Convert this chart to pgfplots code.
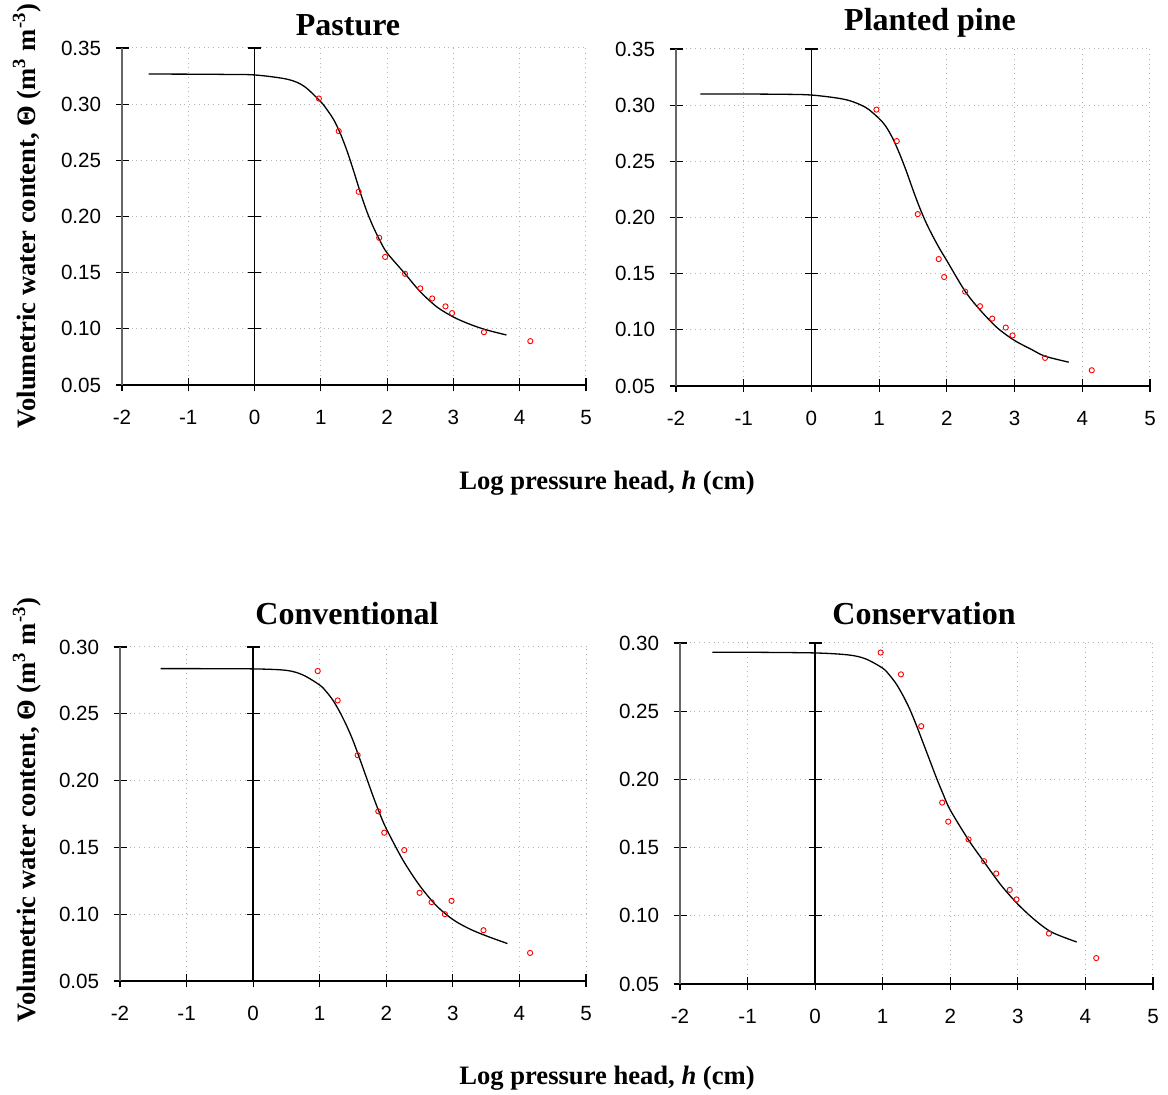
\documentclass[border=0pt]{standalone}
\usepackage{fontspec}
\setmainfont{Liberation Serif}
\newfontfamily\arial{Liberation Sans}
\usepackage{pgfplots}
\pgfplotsset{compat=1.18}

\pgfplotsset{
  swrc/.style={
    scale only axis,
    xmin=-2, xmax=5, ymin=0.05,
    xtick={-2,-1,0,1,2,3,4,5},
    axis lines=left,
    axis line style={-},
    x axis line style={black, line width=1pt},
    y axis line style={black!60, line width=1pt},
    tick align=center,
    major tick length=6.5pt,
    tick style={black, line width=0.6pt},
    grid=major,
    grid style={dotted, black!30, line width=0.5pt},
    ticklabel style={font=\arial\fontsize{10.3}{12}\selectfont, inner sep=0pt},
    xticklabel style={anchor=north, yshift=-9pt},
    yticklabel style={anchor=east, xshift=-7pt},
    /pgf/number format/assume math mode=true,
    yticklabel={\pgfmathprintnumber[fixed, fixed zerofill, precision=2]{\tick}},
  },
  fit/.style={black, line width=0.65pt, smooth, no markers},
  obs/.style={only marks, mark=o, red, mark size=1.3pt, mark options={line width=0.45pt, fill=white}},
}

\newcommand{\zeroline}[1]{%
  \draw[black, line width=0.7pt] (axis cs:0,0.05) -- (axis cs:0,#1);
  \pgfplotsinvokeforeach{0.10,0.15,0.20,0.25,0.30,0.35}{%
    \pgfmathparse{##1<=#1+0.001 ? 1 : 0}%
    \ifnum\pgfmathresult=1
      \draw[black, line width=0.6pt] ([xshift=-3.25pt]axis cs:0,##1) -- ([xshift=3.25pt]axis cs:0,##1);
    \fi}%
}

\begin{document}
\begin{tikzpicture}
\useasboundingbox (0pt,0pt) rectangle (584pt,547.5pt);

% Pasture
\begin{axis}[swrc, at={(61pt,355pt)}, anchor=south west, width=232pt, height=168.5pt,
  ymax=0.35, ytick={0.05,0.10,0.15,0.20,0.25,0.30,0.35}]
\zeroline{0.35}
\addplot[fit] table {
-1.60 0.3268
-1.00 0.3267
-0.50 0.3265
0.00 0.3260
0.50 0.3221
0.75 0.3158
1.00 0.3020
1.10 0.2945
1.20 0.2855
1.30 0.2730
1.40 0.2575
1.50 0.2395
1.60 0.2205
1.70 0.2035
1.80 0.1895
1.90 0.1775
2.00 0.1675
2.27 0.1490
2.50 0.1330
2.75 0.1195
3.00 0.1105
3.25 0.1040
3.50 0.0990
3.80 0.0945
};
\addplot[obs] table {
0.97 0.305
1.27 0.276
1.57 0.222
1.88 0.181
1.97 0.164
2.27 0.149
2.50 0.136
2.68 0.127
2.88 0.120
2.98 0.114
3.46 0.097
4.16 0.089
};
\end{axis}

% Planted pine
\begin{axis}[swrc, at={(338pt,354.5pt)}, anchor=south west, width=237pt, height=168.5pt,
  ymax=0.35, ytick={0.05,0.10,0.15,0.20,0.25,0.30,0.35}]
\zeroline{0.35}
\addplot[fit] table {
-1.64 0.3100
-1.00 0.3099
-0.50 0.3097
0.00 0.3090
0.50 0.3050
0.80 0.2980
1.00 0.2880
1.10 0.2810
1.20 0.2705
1.30 0.2570
1.40 0.2415
1.50 0.2245
1.60 0.2085
1.70 0.1945
1.80 0.1825
1.90 0.1715
2.00 0.1615
2.27 0.1343
2.50 0.1170
2.75 0.1015
3.00 0.0905
3.25 0.0825
3.45 0.0765
3.80 0.0712
};
\addplot[obs] table {
0.96 0.296
1.26 0.268
1.57 0.203
1.88 0.163
1.96 0.147
2.27 0.134
2.49 0.121
2.67 0.110
2.87 0.102
2.97 0.095
3.45 0.075
4.14 0.064
};
\end{axis}

% Conventional
\begin{axis}[swrc, at={(60pt,57pt)}, anchor=south west, width=233pt, height=167pt,
  ymax=0.30, ytick={0.05,0.10,0.15,0.20,0.25,0.30}]
\zeroline{0.30}
\addplot[fit] table {
-1.39 0.2838
-1.00 0.2838
0.00 0.2836
0.50 0.2825
0.75 0.2790
1.00 0.2715
1.10 0.2665
1.20 0.2600
1.30 0.2515
1.40 0.2415
1.50 0.2300
1.60 0.2165
1.70 0.2025
1.80 0.1885
1.90 0.1755
2.00 0.1640
2.25 0.1405
2.50 0.1215
2.75 0.1065
3.00 0.0960
3.25 0.0890
3.50 0.0838
3.82 0.0780
};
\addplot[obs] table {
0.97 0.282
1.27 0.260
1.57 0.219
1.88 0.177
1.97 0.161
2.27 0.148
2.50 0.116
2.68 0.109
2.88 0.100
2.98 0.110
3.46 0.088
4.16 0.071
};
\end{axis}

% Conservation
\begin{axis}[swrc, at={(340pt,55.5pt)}, anchor=south west, width=236.5pt, height=170.5pt,
  ymax=0.30, ytick={0.05,0.10,0.15,0.20,0.25,0.30}]
\zeroline{0.30}
\addplot[fit] table {
-1.52 0.2932
-1.00 0.2932
0.00 0.2927
0.50 0.2912
0.75 0.2883
1.00 0.2815
1.10 0.2765
1.20 0.2700
1.30 0.2615
1.40 0.2515
1.50 0.2395
1.60 0.2265
1.70 0.2135
1.80 0.2005
1.90 0.1885
2.00 0.1775
2.27 0.1556
2.50 0.1395
2.75 0.1225
3.00 0.1085
3.25 0.0970
3.50 0.0880
3.87 0.0808
};
\addplot[obs] table {
0.97 0.293
1.27 0.277
1.57 0.239
1.88 0.183
1.97 0.169
2.27 0.156
2.50 0.140
2.68 0.131
2.88 0.119
2.98 0.112
3.46 0.087
4.16 0.069
};
\end{axis}

% titles
\node[font=\bfseries\fontsize{16}{18}\selectfont] at (174pt,535pt) {Pasture};
\node[font=\bfseries\fontsize{16}{18}\selectfont] at (465pt,536pt) {Planted pine};
\node[font=\bfseries\fontsize{16}{18}\selectfont] at (173.5pt,240.5pt) {Conventional};
\node[font=\bfseries\fontsize{16}{18}\selectfont] at (462pt,240.5pt) {Conservation};

% axis labels
\node[font=\bfseries\fontsize{13.3}{16}\selectfont] at (303.5pt,306pt) {Log pressure head, \textit{h} (cm)};
\node[font=\bfseries\fontsize{13.3}{16}\selectfont] at (303.5pt,8.5pt) {Log pressure head, \textit{h} (cm)};
\node[font=\bfseries\fontsize{13.3}{16}\selectfont, rotate=90] at (13.5pt,439.5pt) {Volumetric water content, Θ (m\textsuperscript{3} m\textsuperscript{-3})};
\node[font=\bfseries\fontsize{13.3}{16}\selectfont, rotate=90] at (13.5pt,142.5pt) {Volumetric water content, Θ (m\textsuperscript{3} m\textsuperscript{-3})};
\end{tikzpicture}
\end{document}
